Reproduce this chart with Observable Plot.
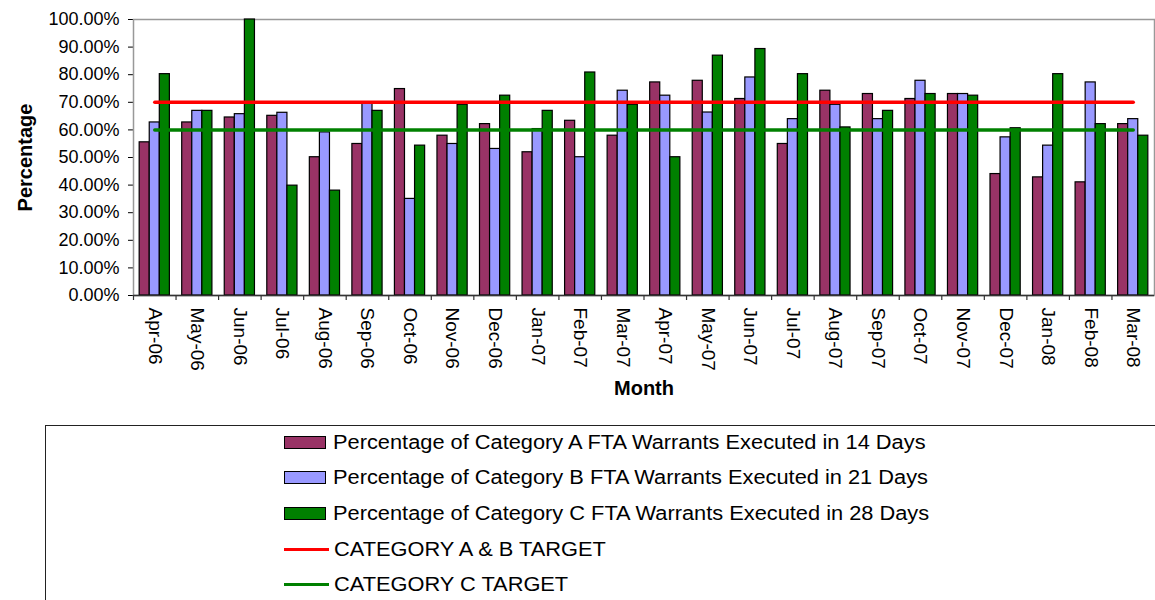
<!DOCTYPE html>
<html>
<head>
<meta charset="utf-8">
<script src="https://cdn.jsdelivr.net/npm/d3@7"></script>
<script src="https://cdn.jsdelivr.net/npm/@observablehq/plot@0.6"></script>
<style>
  body { margin: 0; background: #fff; font-family: Arial, "Liberation Sans", sans-serif; }
  #chart { position: absolute; left: 0; top: 0; }
  g[aria-label^="x-axis"] text { font-size: 19px; }
  #legend { position: absolute; left: 45px; top: 425px; width: 1200px; height: 200px; border: 1px solid #222; box-sizing: border-box; }
  .row { position: absolute; left: 238px; height: 20px; display: flex; align-items: center; font-size: 20px; color: #000; white-space: nowrap; }
  .row span { display: inline-block; transform: scaleX(1.09); transform-origin: left center; }
  .sw { width: 40px; height: 11px; border: 1.5px solid #000; margin-right: 7px; box-sizing: content-box; }
  .ln { width: 45px; height: 3px; margin-right: 5px; }
</style>
</head>
<body>
<div id="chart"></div>
<div id="legend"></div>
<script>
const months = ["Apr-06","May-06","Jun-06","Jul-06","Aug-06","Sep-06","Oct-06","Nov-06","Dec-06","Jan-07","Feb-07","Mar-07",
                "Apr-07","May-07","Jun-07","Jul-07","Aug-07","Sep-07","Oct-07","Nov-07","Dec-07","Jan-08","Feb-08","Mar-08"];
const catA = [55.5, 62.7, 64.5, 65.1, 50.1, 54.9, 74.8, 57.9, 62.1, 51.9, 63.3, 57.9, 77.2, 77.8, 71.2, 54.9, 74.2, 73.0, 71.2, 73.0, 44.0, 42.8, 41.0, 62.1];
const catB = [62.7, 66.9, 65.7, 66.2, 59.1, 69.5, 35.0, 54.9, 53.1, 60.3, 50.1, 74.2, 72.4, 66.3, 79.0, 63.9, 69.1, 63.9, 77.8, 73.0, 57.3, 54.3, 77.2, 63.9];
const catC = [80.2, 66.9, 100.0, 39.8, 38.0, 66.9, 54.3, 69.1, 72.4, 66.9, 80.8, 69.1, 50.1, 86.9, 89.3, 80.2, 60.9, 66.9, 73.0, 72.4, 60.6, 80.2, 62.1, 57.9];
const targetAB = 70;
const targetC = 60;
const yTicks = [0, 10, 20, 30, 40, 50, 60, 70, 80, 90, 100];
const seriesNames = [
  "Percentage of Category A FTA Warrants Executed in 14 Days",
  "Percentage of Category B FTA Warrants Executed in 21 Days",
  "Percentage of Category C FTA Warrants Executed in 28 Days"
];
const lineNames = ["CATEGORY A & B TARGET", "CATEGORY C TARGET"];
const colors = ["#993366", "#9999FF", "#008000"];
const lineColors = ["#FF0000", "#008000"];

const W = 1155, H = 415, ML = 133, MR = 1, MT = 19, MB = 120;
const step = (W - ML - MR) / months.length;
const gap = step * 0.145;
const barW = step * 0.71 / 3;

const rows = (vals) => months.map((m, i) => ({month: m, value: vals[i] / 100}));
const series = [catA, catB, catC];

const bars = series.map((vals, k) => Plot.barY(rows(vals), {
  x: "month", y: "value", fill: colors[k], stroke: "#000", strokeWidth: 1.2,
  insetLeft: gap + barW * k, insetRight: gap + barW * (2 - k)
}));

const chart = Plot.plot({
  width: W, height: H, marginLeft: ML, marginRight: MR, marginTop: MT, marginBottom: MB,
  style: {fontFamily: "Arial, 'Liberation Sans', sans-serif", fontSize: "18px", color: "#000", background: "#fff"},
  x: {domain: months, padding: 0, round: false, label: null, tickSize: 0, tickPadding: 12, tickRotate: 90},
  y: {domain: [0, 1], ticks: yTicks.map(d => d / 100), tickFormat: d3.format(".2%"), label: null, tickSize: 5, tickPadding: 9, line: true},
  marks: [
    Plot.frame({stroke: "#999", strokeWidth: 1.5}),
    ...bars,
    Plot.lineY(months, {x: d => d, y: () => targetAB / 100, stroke: lineColors[0], strokeWidth: 3.5}),
    Plot.lineY(months, {x: d => d, y: () => targetC / 100, stroke: lineColors[1], strokeWidth: 3.5}),
    Plot.ruleY([0], {stroke: "#333", strokeWidth: 1.5}),
    Plot.ruleX(months, {x: d => d, y1: 0, y2: 0, insetBottom: -5, dx: -step / 2, stroke: "#333", strokeWidth: 1.2}),
    Plot.text(["Percentage"], {text: d => d, frameAnchor: "left", dx: -108, rotate: -90, textAnchor: "middle", lineAnchor: "middle", fontWeight: "bold", fontSize: 20}),
    Plot.text(["Month"], {text: d => d, frameAnchor: "bottom", dy: 93, textAnchor: "middle", lineAnchor: "middle", fontWeight: "bold", fontSize: 20})
  ]
});
document.getElementById("chart").append(chart);

const legend = document.getElementById("legend");
const rowTops = [6, 41, 77, 113, 148];
seriesNames.forEach((name, k) => {
  const r = document.createElement("div");
  r.className = "row"; r.style.top = rowTops[k] + "px";
  const s = document.createElement("div"); s.className = "sw"; s.style.background = colors[k];
  const t = document.createElement("span"); t.textContent = name;
  r.append(s, t); legend.append(r);
});
lineNames.forEach((name, k) => {
  const r = document.createElement("div");
  r.className = "row"; r.style.top = rowTops[3 + k] + "px";
  const s = document.createElement("div"); s.className = "ln"; s.style.background = lineColors[k];
  const t = document.createElement("span"); t.textContent = name;
  r.append(s, t); legend.append(r);
});
</script>
</body>
</html>
